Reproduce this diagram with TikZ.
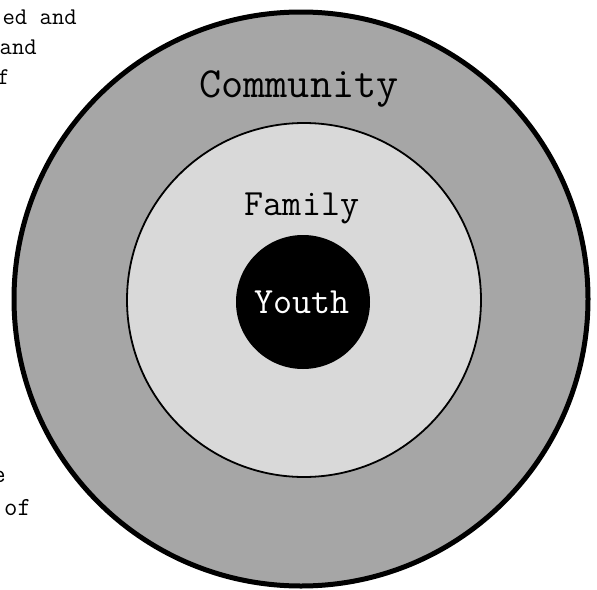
\documentclass[tikz,border=0pt]{standalone}
\usepackage{fontspec}
\definecolor{outergray}{HTML}{A6A6A6}
\definecolor{innergray}{HTML}{D9D9D9}
\begin{document}
\begin{tikzpicture}[x=1pt,y=-1pt,
  ring/.style={circle, inner sep=0pt, outer sep=0pt},
  label/.style={anchor=base, inner sep=0pt, font=\ttfamily\fontsize{43}{48}\selectfont},
  side/.style={inner sep=0pt, font=\ttfamily\fontsize{24}{28}\selectfont}]
\useasboundingbox (0,0) rectangle (597,589);
\node[ring, draw, line width=5pt, fill=outergray, minimum size=574pt] (outer) at (301,299) {};
\node[ring, draw, line width=1.8pt, fill=innergray, minimum size=354pt] (middle) at (304,300) {};
\node[ring, fill=black, minimum size=134pt] (core) at (303,302) {};
\node[label] (community) at (299,97) {Community};
\node[label, font=\ttfamily\fontsize{37}{42}\selectfont] (family) at (302,215) {Family};
\node[label, font=\ttfamily\fontsize{37}{42}\selectfont, text=white] (youth) at (302,313) {Youth};
\node[side, anchor=base east] (t1) at (77,24) {ed and};
\node[side, anchor=base east] (t2) at (37,54) {and};
\node[side, anchor=base east] (t3) at (10,84) {of};
\node[side, anchor=base east, font=\ttfamily\fontsize{26}{30}\selectfont] (b1) at (6,482) {e};
\node[side, anchor=base west, font=\ttfamily\fontsize{26}{30}\selectfont] (b2) at (4,515) {of};
\end{tikzpicture}
\end{document}
